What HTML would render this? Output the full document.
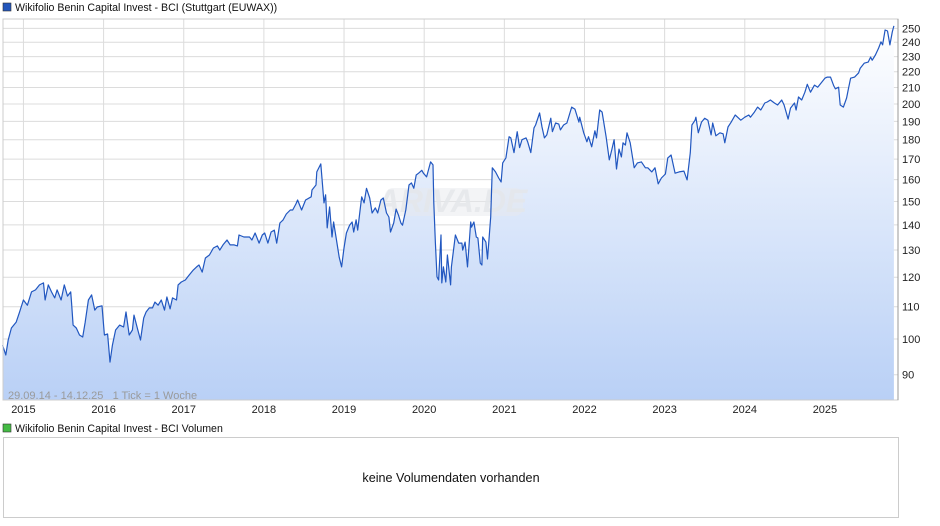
<!DOCTYPE html>
<html><head><meta charset="utf-8"><style>
body{margin:0;background:#fff;font-family:"Liberation Sans",Arial,sans-serif;}
svg{display:block}
</style></head><body>
<svg id="c" width="940" height="526" xmlns="http://www.w3.org/2000/svg">
<defs><linearGradient id="g" x1="0" y1="0" x2="0" y2="1"><stop offset="0" stop-color="#ffffff"/><stop offset="1" stop-color="#b9d0f6"/></linearGradient></defs>
<rect x="3" y="3" width="8" height="8" fill="#2255bb" stroke="#333" stroke-width="0.6"/>
<text x="15" y="11" font-size="10.6" fill="#111">Wikifolio Benin Capital Invest - BCI (Stuttgart (EUWAX))</text>
<g id="grid"></g>
<path id="area" fill="url(#g)"/>
<rect x="385" y="188" width="138" height="28" rx="8" fill="#e8eaee" fill-opacity="0.5"/>
<text x="452" y="212" font-size="32" font-weight="bold" font-style="italic" fill="#e4e6ea" fill-opacity="0.8" text-anchor="middle">ARIVA.DE</text>
<path id="line" fill="none" stroke="#2157c0" stroke-width="1.2" stroke-linejoin="round"/>
<rect x="3" y="19" width="895" height="381" fill="none" stroke="#ccc"/>
<line x1="898" y1="19" x2="898" y2="400" stroke="#999"/>
<g id="ylab"></g><g id="xlab"></g>
<text x="8" y="399" font-size="11" fill="#9a9a9a">29.09.14 - 14.12.25 &#160;&#160;1 Tick = 1 Woche</text>
<rect x="3" y="424" width="8" height="8" fill="#44bb44" stroke="#333" stroke-width="0.6"/>
<text x="15" y="432" font-size="10.6" fill="#111">Wikifolio Benin Capital Invest - BCI Volumen</text>
<rect x="3.5" y="437.5" width="895" height="80" fill="none" stroke="#ccc"/>
<text x="451" y="482" font-size="12.6" fill="#111" text-anchor="middle">keine Volumendaten vorhanden</text>
</svg>
<script>
const dates=[2014.74,2014.78,2014.81,2014.85,2014.91,2014.95,2015.00,2015.05,2015.10,2015.15,2015.20,2015.25,2015.27,2015.31,2015.35,2015.39,2015.42,2015.47,2015.51,2015.55,2015.59,2015.60,2015.62,2015.66,2015.70,2015.74,2015.77,2015.81,2015.85,2015.89,2015.92,2015.98,2016.01,2016.05,2016.08,2016.11,2016.15,2016.20,2016.25,2016.28,2016.32,2016.36,2016.38,2016.42,2016.46,2016.50,2016.53,2016.57,2016.61,2016.64,2016.68,2016.72,2016.76,2016.79,2016.83,2016.86,2016.91,2016.93,2016.97,2017.02,2017.07,2017.12,2017.16,2017.19,2017.23,2017.27,2017.32,2017.37,2017.42,2017.45,2017.49,2017.54,2017.58,2017.63,2017.67,2017.69,2017.75,2017.82,2017.85,2017.89,2017.94,2017.98,2018.01,2018.05,2018.09,2018.13,2018.16,2018.20,2018.24,2018.28,2018.33,2018.36,2018.40,2018.42,2018.47,2018.52,2018.59,2018.60,2018.65,2018.66,2018.71,2018.75,2018.77,2018.79,2018.82,2018.85,2018.87,2018.90,2018.94,2018.97,2019.00,2019.03,2019.07,2019.10,2019.12,2019.15,2019.17,2019.20,2019.22,2019.25,2019.28,2019.32,2019.35,2019.39,2019.42,2019.46,2019.49,2019.53,2019.56,2019.58,2019.62,2019.65,2019.68,2019.71,2019.73,2019.77,2019.81,2019.84,2019.87,2019.90,2019.93,2019.97,2019.99,2020.03,2020.08,2020.11,2020.12,2020.14,2020.16,2020.18,2020.21,2020.22,2020.24,2020.27,2020.29,2020.33,2020.34,2020.39,2020.43,2020.47,2020.48,2020.51,2020.54,2020.58,2020.59,2020.62,2020.65,2020.67,2020.70,2020.72,2020.73,2020.77,2020.79,2020.83,2020.85,2020.89,2020.93,2020.96,2020.98,2021.02,2021.06,2021.08,2021.12,2021.16,2021.19,2021.22,2021.27,2021.29,2021.33,2021.37,2021.39,2021.44,2021.47,2021.50,2021.53,2021.58,2021.60,2021.64,2021.68,2021.70,2021.74,2021.78,2021.84,2021.88,2021.93,2021.94,2021.99,2022.03,2022.05,2022.09,2022.13,2022.15,2022.19,2022.22,2022.27,2022.31,2022.34,2022.37,2022.40,2022.43,2022.46,2022.48,2022.51,2022.53,2022.57,2022.62,2022.66,2022.71,2022.76,2022.79,2022.84,2022.88,2022.92,2022.96,2023.01,2023.04,2023.08,2023.11,2023.13,2023.18,2023.24,2023.28,2023.32,2023.34,2023.38,2023.39,2023.42,2023.46,2023.50,2023.54,2023.58,2023.60,2023.64,2023.69,2023.73,2023.75,2023.79,2023.83,2023.88,2023.91,2023.95,2024.00,2024.05,2024.07,2024.12,2024.16,2024.20,2024.25,2024.28,2024.32,2024.37,2024.41,2024.46,2024.49,2024.54,2024.57,2024.62,2024.64,2024.67,2024.71,2024.75,2024.78,2024.82,2024.87,2024.91,2024.95,2025.00,2025.03,2025.07,2025.11,2025.13,2025.17,2025.19,2025.23,2025.27,2025.29,2025.32,2025.37,2025.42,2025.44,2025.49,2025.54,2025.57,2025.59,2025.63,2025.67,2025.70,2025.72,2025.75,2025.78,2025.81,2025.84,2025.86];
const prices=[98.2,95.4,99.7,103.3,105.1,108.1,112.2,110.5,114.9,115.6,117.3,118.0,112.2,117.3,114.9,112.9,115.6,112.2,117.3,113.5,114.9,111.5,104.2,103.3,101.2,100.6,105.1,112.2,113.9,108.9,109.9,110.3,101.2,101.5,93.4,98.2,102.7,104.2,103.6,108.3,101.2,102.7,107.3,103.3,99.7,106.4,108.3,109.6,109.6,111.5,110.5,112.2,108.9,113.2,109.3,112.9,112.2,117.3,118.3,119.0,120.8,122.6,123.7,124.4,121.8,127.0,128.1,130.8,131.6,130.0,132.0,133.9,132.0,132.0,131.6,135.9,135.1,135.1,133.9,136.7,132.7,135.9,136.7,132.7,137.1,137.9,132.7,140.8,142.1,144.6,146.3,146.3,148.9,150.7,146.3,150.7,152.1,155.2,157.5,163.7,167.6,149.4,153.0,138.8,147.6,135.1,141.2,135.1,127.3,123.7,130.8,136.7,139.9,141.2,137.1,142.1,137.9,146.3,152.1,149.4,156.0,151.6,145.0,147.2,145.0,150.7,151.6,145.0,143.3,137.1,140.8,146.7,144.1,140.8,139.9,146.3,157.5,158.5,156.0,162.2,163.1,164.5,163.1,161.3,168.6,167.1,149.4,132.7,120.1,119.0,135.9,118.0,123.7,118.3,128.1,117.3,123.7,135.9,132.7,132.7,130.0,133.1,123.7,141.2,139.1,141.2,135.1,134.7,125.1,124.4,135.1,133.1,126.6,143.3,165.7,163.7,160.8,158.9,168.1,170.6,181.6,181.0,173.3,184.3,175.9,180.0,181.0,179.0,173.3,186.4,188.0,194.8,186.9,181.0,182.6,191.8,184.3,189.1,188.5,185.3,188.0,189.1,198.2,197.0,189.6,192.4,183.7,178.9,181.6,176.3,184.8,181.0,196.5,195.3,181.6,169.6,174.6,180.0,165.1,175.1,171.1,178.4,177.2,183.7,178.4,165.7,168.1,168.6,165.7,165.7,163.7,165.7,158.0,160.8,162.7,170.6,172.1,166.6,163.1,163.7,164.1,159.9,173.3,188.0,190.7,192.4,183.7,189.6,191.8,190.7,182.6,189.1,182.1,183.7,183.2,178.4,186.9,189.6,193.6,192.4,190.7,192.4,193.6,192.4,195.3,198.2,196.5,200.6,201.2,202.4,200.6,199.4,202.4,199.4,191.3,197.6,200.6,196.5,204.2,202.4,207.1,212.0,207.1,211.5,210.2,212.7,215.8,216.5,216.5,211.0,209.1,210.2,199.4,198.2,203.6,208.5,215.8,216.5,219.2,222.3,225.6,226.3,229.7,227.6,231.1,235.9,240.2,238.1,248.8,248.1,238.1,247.4,251.8];
const yTicks=[90,100,110,120,130,140,150,160,170,180,190,200,210,220,230,240,250];
const xTicks=[2015,2016,2017,2018,2019,2020,2021,2022,2023,2024,2025];
const NS="http://www.w3.org/2000/svg";
const X=t=>3+(t-2014.745)*80.15;
const Y=v=>339-339*Math.log(v/100);
function mk(tag,attrs,parent){const e=document.createElementNS(NS,tag);for(const k in attrs)e.setAttribute(k,attrs[k]);parent.appendChild(e);return e;}
const grid=document.getElementById('grid'),yl=document.getElementById('ylab'),xl=document.getElementById('xlab');
yTicks.forEach(v=>{const y=Y(v);
 const l=mk('line',{x1:3,x2:898,y1:y,y2:y,stroke:'#dcdcdc'},grid);
 
 
 const t=mk('text',{x:902,y:y+4,'font-size':11,fill:'#222'},yl);t.textContent=v;
 
 
});
xTicks.forEach(yr=>{const x=X(yr);
 const l=mk('line',{x1:x,x2:x,y1:19,y2:400,stroke:'#dcdcdc'},grid);
 
 
 const t=mk('text',{x:x,y:413,'font-size':11,fill:'#222','text-anchor':'middle'},xl);t.textContent=yr;
 
 
});
let d='';dates.forEach((t,i)=>{d+=(i?'L':'M')+X(t).toFixed(1)+','+Y(prices[i]).toFixed(1);});
document.getElementById('line').setAttribute('d',d);
document.getElementById('area').setAttribute('d',d+'L'+X(dates[dates.length-1]).toFixed(1)+',400L'+X(dates[0]).toFixed(1)+',400Z');
</script>
</body></html>
